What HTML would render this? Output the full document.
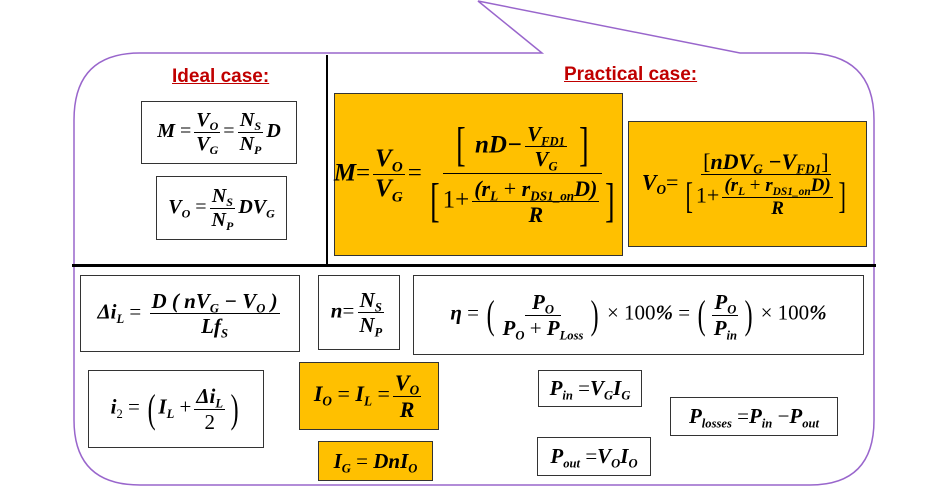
<!DOCTYPE html>
<html><head><meta charset="utf-8"><style>
body{margin:0;width:950px;height:495px;background:#fff;position:relative;overflow:hidden;font-family:"Liberation Serif",serif}
.b{position:absolute;border:1px solid #333;background:#fff;display:flex;align-items:center;justify-content:center;font-weight:bold;font-style:italic;font-size:20px;white-space:nowrap;box-sizing:border-box}
.b>i{font-style:italic;display:block}
.o{background:#ffc000}
.f{display:inline-flex;flex-direction:column;align-items:center;vertical-align:middle;margin:0 3px}
.f>span{padding:0 2px;line-height:1.15}
.f>span:first-child{border-bottom:1.5px solid #000}
sub{font-size:60%;vertical-align:-0.35em;line-height:0}
.n{font-style:normal;font-weight:normal}
.p{font-style:normal;font-weight:normal;font-size:1.9em;vertical-align:middle;line-height:1;transform:scaleX(0.6);display:inline-block}
.h{position:absolute;color:#c00000;font-family:"Liberation Sans",sans-serif;font-weight:bold;font-size:19px;text-decoration:underline}
.vl{position:absolute;background:#000}
</style></head><body>
<svg width="950" height="495" style="position:absolute;left:0;top:0">
<path d="M140,53 L542,53 L478,1 L740,53 L805,53 Q874,53 874,120 L874,420 Q874,485 810,485 L140,485 Q74,485 74,420 L74,120 Q74,53 140,53 Z" fill="none" stroke="#9966cc" stroke-width="1.5"/>
</svg>
<div class="vl" style="left:326px;top:55px;width:2px;height:211px"></div>
<div class="vl" style="left:72px;top:264px;width:804px;height:3px"></div>
<div class="h" style="left:172px;top:66px">Ideal case:</div>
<div class="h" style="left:564px;top:64px">Practical case:</div>

<div class="b" style="left:141px;top:101px;width:156px;height:63px"><i>M <span class="n">=</span><span class="f"><span>V<sub>O</sub></span><span>V<sub>G</sub></span></span><span class="n">=</span><span class="f"><span>N<sub>S</sub></span><span>N<sub>P</sub></span></span>D</i></div>
<div class="b" style="left:156px;top:176px;width:131px;height:64px"><i>V<sub>O</sub> <span class="n">=</span><span class="f"><span>N<sub>S</sub></span><span>N<sub>P</sub></span></span>DV<sub>G</sub></i></div>

<div class="b o" style="left:334px;top:93px;width:289px;height:163px;font-size:25px"><i>M<span class="n">=</span><span class="f"><span>V<sub>O</sub></span><span>V<sub>G</sub></span></span><span class="n">=</span><span class="f"><span style="padding:2px 10px;border-bottom:1.5px solid #000"><span class="p">[</span> nD−<span class="f" style="font-size:21px"><span>V<sub>FD1</sub></span><span>V<sub>G</sub></span></span> <span class="p">]</span></span><span style="padding:2px 2px"><span class="p">[</span><span class="n">1+</span><span class="f" style="font-size:22px"><span>(r<sub>L</sub> <span class="n">+</span> r<sub>DS1_on</sub>D)</span><span>R</span></span><span class="p">]</span></span></span></i></div>

<div class="b o" style="left:628px;top:121px;width:239px;height:126px;font-size:22px"><i>V<sub>O</sub><span class="n">=</span><span class="f"><span><span class="n">[</span>nDV<sub>G</sub> −V<sub>FD1</sub><span class="n">]</span></span><span><span class="p" style="font-size:1.7em">[</span><span class="n">1+</span><span class="f" style="font-size:19px"><span>(r<sub>L</sub> <span class="n">+</span> r<sub>DS1_on</sub>D)</span><span>R</span></span><span class="p" style="font-size:1.7em">]</span></span></span></i></div>

<div class="b" style="left:80px;top:275px;width:220px;height:77px;font-size:21px"><i>Δi<sub>L</sub><span class="n">&nbsp;=&nbsp;</span><span class="f"><span>D ( nV<sub>G</sub> − V<sub>O</sub> )</span><span>Lf<sub>S</sub></span></span></i></div>
<div class="b" style="left:318px;top:275px;width:82px;height:75px;font-size:21px"><i>n<span class="n">=</span><span class="f"><span>N<sub>S</sub></span><span>N<sub>P</sub></span></span></i></div>
<div class="b" style="left:413px;top:275px;width:451px;height:80px;font-size:21px"><i>η<span class="n">&nbsp;= </span><span class="p">(</span><span class="f"><span>&nbsp;P<sub>O</sub>&nbsp;</span><span>P<sub>O</sub> <span class="n">+</span> P<sub>Loss</sub></span></span><span class="p">)</span><span class="n"> × 100</span>%<span class="n">&nbsp;= </span><span class="p">(</span><span class="f"><span>P<sub>O</sub></span><span>P<sub>in</sub></span></span><span class="p">)</span><span class="n"> × 100</span>%</i></div>
<div class="b" style="left:88px;top:370px;width:176px;height:78px;font-size:21px"><i>i<sub class="n">2</sub><span class="n">&nbsp;= </span><span class="p">(</span>I<sub>L</sub><span class="n">&nbsp;+</span><span class="f"><span>Δi<sub>L</sub></span><span class="n">2</span></span><span class="p">)</span></i></div>
<div class="b o" style="left:299px;top:362px;width:140px;height:68px;font-size:22px"><i>I<sub>O</sub><span class="n">&nbsp;=&nbsp;</span>I<sub>L</sub><span class="n">&nbsp;=</span><span class="f"><span>V<sub>O</sub></span><span>R</span></span></i></div>
<div class="b o" style="left:318px;top:441px;width:115px;height:40px;font-size:21px"><i>I<sub>G</sub><span class="n">&nbsp;=&nbsp;</span>DnI<sub>O</sub></i></div>
<div class="b" style="left:538px;top:370px;width:104px;height:37px;font-size:21px"><i>P<sub>in</sub><span class="n">&nbsp;=</span>V<sub>G</sub>I<sub>G</sub></i></div>
<div class="b" style="left:670px;top:397px;width:168px;height:39px;font-size:21px"><i>P<sub>losses</sub><span class="n">&nbsp;=</span>P<sub>in</sub><span class="n">&nbsp;−</span>P<sub>out</sub></i></div>
<div class="b" style="left:537px;top:437px;width:114px;height:39px;font-size:21px"><i>P<sub>out</sub><span class="n">&nbsp;=</span>V<sub>O</sub>I<sub>O</sub></i></div>
</body></html>
